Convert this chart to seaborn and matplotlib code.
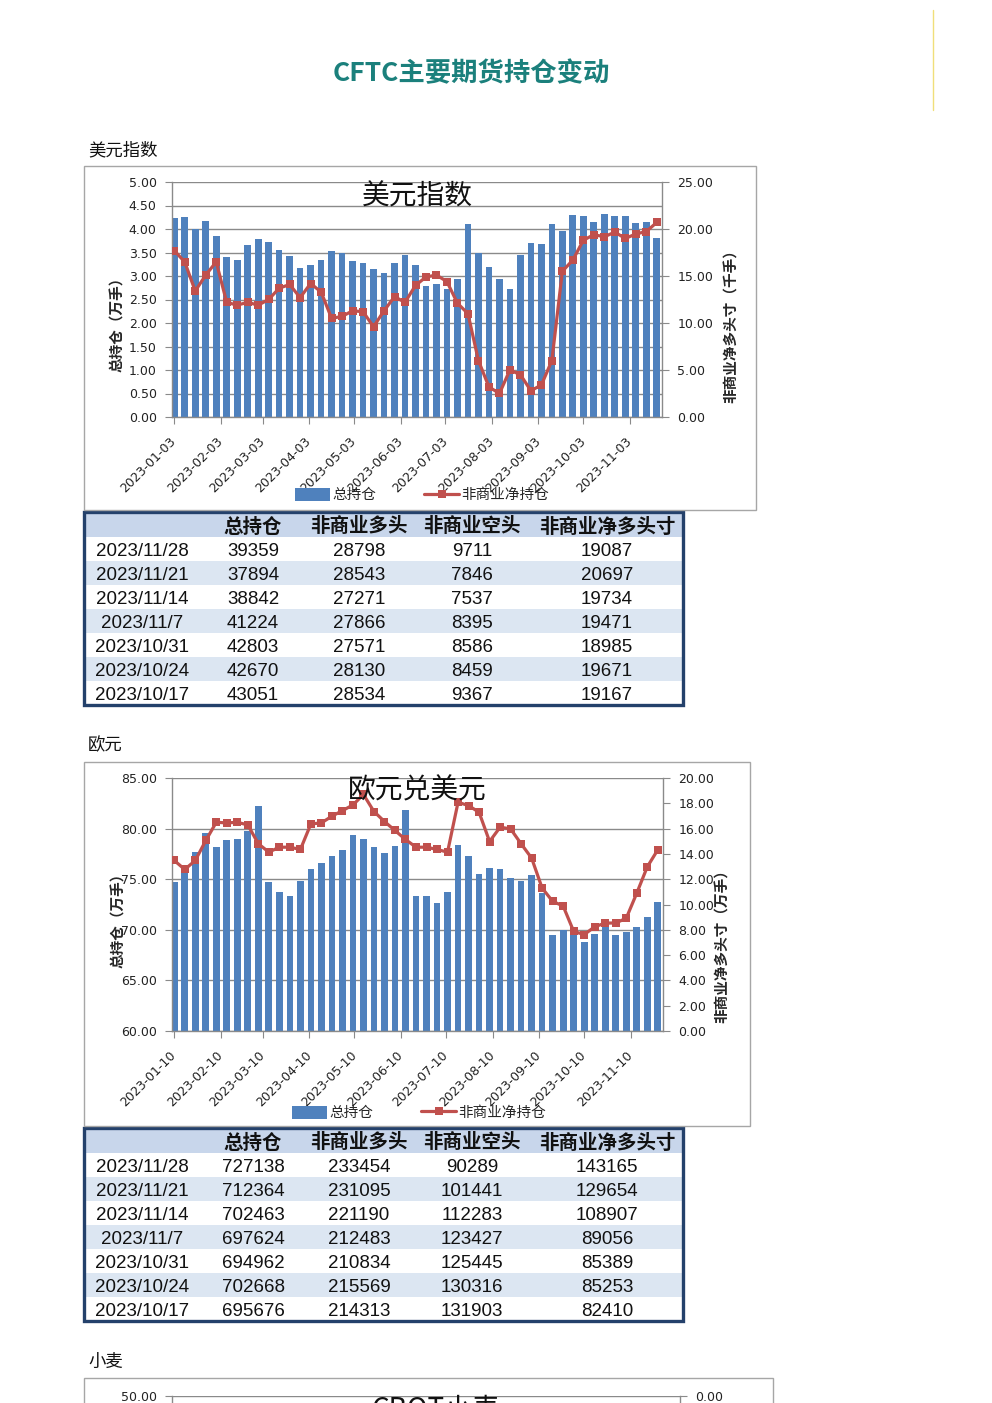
import numpy as np
import pandas as pd
import matplotlib
matplotlib.use("Agg")
import matplotlib.pyplot as plt
import seaborn as sns
from matplotlib.patches import Rectangle, Patch
from matplotlib.lines import Line2D

# ---------------- data ----------------
# 美元指数: weekly, 2023-01-03 .. 2023-11-21
usd_start = "2023-01-03"
usd_total = [4.23, 4.25, 3.99, 4.16, 3.85, 3.40, 3.34, 3.65, 3.78, 3.72,
             3.55, 3.43, 3.17, 3.24, 3.33, 3.53, 3.49, 3.32, 3.28, 3.14,
             3.07, 3.28, 3.45, 3.24, 2.79, 2.82, 2.72, 2.93, 4.11, 3.48,
             3.19, 2.93, 2.72, 3.44, 3.71, 3.69, 4.11, 3.95, 4.29, 4.28,
             4.15, 4.31, 4.27, 4.28, 4.12, 4.14, 3.80]          # 万手
usd_net = [17.7, 16.5, 13.4, 15.1, 16.5, 12.2, 11.9, 12.2, 11.9, 12.5,
           13.7, 14.1, 12.7, 14.2, 13.3, 10.5, 10.7, 11.3, 11.2, 9.6,
           11.3, 12.8, 12.2, 14.0, 14.9, 15.1, 14.4, 12.1, 11.0, 6.0,
           3.2, 2.5, 5.0, 4.5, 2.8, 3.4, 6.0, 15.5, 16.7, 18.8,
           19.4, 19.17, 19.67, 18.99, 19.47, 19.73, 20.70]    # 千手
usd_tick_labels = [f"2023-{m:02d}-03" for m in range(1, 12)]

# 欧元: weekly, 2023-01-10 .. 2023-11-28
eur_start = "2023-01-10"
eur_total = [74.7, 75.7, 77.7, 79.6, 78.2, 78.85, 78.95, 79.8, 82.2, 74.7,
             73.7, 73.3, 74.8, 76.0, 76.6, 77.3, 77.9, 79.4, 78.95, 78.2,
             77.6, 78.3, 81.8, 73.3, 73.3, 72.6, 73.7, 78.35, 77.3, 75.5,
             76.1, 76.0, 75.1, 74.85, 75.45, 73.6, 69.5, 70.0, 70.2, 68.8,
             69.57, 70.27, 69.50, 69.76, 70.25, 71.24, 72.71]       # 万手
eur_net = [13.48, 12.77, 13.48, 15.06, 16.5, 16.45, 16.5, 16.29, 14.8, 14.14,
           14.53, 14.53, 14.35, 16.37, 16.45, 16.98, 17.42, 17.87, 18.7, 17.35,
           16.56, 15.85, 15.14, 14.53, 14.53, 14.35, 14.14, 18.08, 17.82, 17.29,
           14.98, 16.11, 15.98, 14.8, 13.67, 11.3, 10.25, 9.88, 7.88, 7.62,
           8.24, 8.53, 8.54, 8.91, 10.89, 12.97, 14.32]          # 万手
eur_tick_labels = [f"2023-{m:02d}-10" for m in range(1, 12)]

table_cols = ["", "总持仓", "非商业多头", "非商业空头", "非商业净多头寸"]
table_dates = ["2023/11/28", "2023/11/21", "2023/11/14", "2023/11/7",
               "2023/10/31", "2023/10/24", "2023/10/17"]
usd_oi = [39359, 37894, 38842, 41224, 42803, 42670, 43051]
usd_long = [28798, 28543, 27271, 27866, 27571, 28130, 28534]
usd_short = [9711, 7846, 7537, 8395, 8586, 8459, 9367]
usd_netpos = [19087, 20697, 19734, 19471, 18985, 19671, 19167]
eur_oi = [727138, 712364, 702463, 697624, 694962, 702668, 695676]
eur_long = [233454, 231095, 221190, 212483, 210834, 215569, 214313]
eur_short = [90289, 101441, 112283, 123427, 125445, 130316, 131903]
eur_netpos = [143165, 129654, 108907, 89056, 85389, 85253, 82410]

# 小麦: only the top of its axes is on the page
wheat_left_top = 50.0
wheat_right_top = 0.0

# ---------------- style ----------------
W, H = 992, 1403
BASE = pd.Timestamp("2023-01-01")
BAR = "#4f81bd"
LINE = "#c0504d"
GRID = "#8a8a8a"
FRAME = "#a6a6a6"
NAVY = "#24416b"
HDR = "#c8d6eb"
ALT = "#dce6f2"
CJK = ["Noto Sans CJK SC", "DejaVu Sans"]
TICKF = "DejaVu Sans"

sns.set_style("white")
plt.rcParams["font.family"] = ["Liberation Sans", "Noto Sans CJK SC", "DejaVu Sans"]

fig = plt.figure(figsize=(W / 100, H / 100), dpi=100)
fig.patch.set_facecolor("white")


def frac(x0, y0, x1, y1):
    return [x0 / W, 1 - y1 / H, (x1 - x0) / W, (y1 - y0) / H]


def frame(x0, y0, x1, y1, color=FRAME, lw=1.0):
    fig.add_artist(Rectangle((x0 / W, 1 - y1 / H), (x1 - x0) / W, (y1 - y0) / H,
                             transform=fig.transFigure, fill=False, ec=color, lw=lw))


def style_axes(ax, ax2):
    for s in ["top", "right"]:
        ax.spines[s].set_visible(False)
    for s in ["left", "bottom"]:
        ax.spines[s].set_color(GRID)
        ax.spines[s].set_linewidth(1)
    for s in ["left", "top", "bottom"]:
        ax2.spines[s].set_visible(False)
    ax2.spines["right"].set_color(GRID)
    ax2.spines["right"].set_linewidth(1)
    ax.yaxis.grid(True, color=GRID, lw=1)
    ax.xaxis.grid(False)
    ax.set_axisbelow(True)
    ax.tick_params(axis="y", length=5, width=0.8, color=GRID, labelsize=9,
                   labelcolor="#222222", pad=6, left=True)
    ax.tick_params(axis="x", length=5, width=0.8, color=GRID, labelsize=9,
                   labelcolor="#222222", pad=11, bottom=True)
    ax2.tick_params(axis="y", length=5, width=0.8, color=GRID, labelsize=9,
                    labelcolor="#222222", pad=6, right=True)


def draw_panel(area, start, total, net, tick_labels, yticks, y2ticks, title,
               ylab, y2lab, lab_pos, lab2_pos, leg_xy, title_y):
    ax = fig.add_axes(frac(*area))
    dates = pd.date_range(start, periods=len(total), freq="7D")
    df = pd.DataFrame({"day": (dates - BASE).days.astype(float),
                       "total": total, "net": net})
    sns.barplot(data=df, x="day", y="total", native_scale=True, width=0.64,
                color=BAR, saturation=1, errorbar=None, edgecolor="none", ax=ax)
    ax2 = ax.twinx()
    sns.lineplot(data=df, x="day", y="net", ax=ax2, color=LINE, linewidth=2.3,
                 marker="s", markersize=5.5, markeredgecolor=LINE,
                 markeredgewidth=0, errorbar=None, legend=False)
    ax.set_xlim(df["day"].iloc[0] - 1.5, df["day"].iloc[-1] + 3.5)

    ticks = (pd.to_datetime(tick_labels) - BASE).days.astype(float)
    ax.set_xticks(ticks)
    ax.set_xticklabels(tick_labels, rotation=45, ha="right", va="center",
                       rotation_mode="anchor", fontfamily=TICKF)
    ax.set_ylim(yticks[0], yticks[-1])
    ax.set_yticks(yticks)
    ax.set_yticklabels([f"{v:.2f}" for v in yticks], fontfamily=TICKF)
    ax2.set_ylim(y2ticks[0], y2ticks[-1])
    ax2.set_yticks(y2ticks)
    ax2.set_yticklabels([f"{v:.2f}" for v in y2ticks], fontfamily=TICKF)
    style_axes(ax, ax2)

    ax.set_xlabel("")
    ax2.set_xlabel("")
    ax.set_ylabel(ylab, fontsize=10.5, fontweight="bold", family=CJK, va="center")
    ax.yaxis.set_label_coords(*lab_pos)
    ax2.set_ylabel(y2lab, fontsize=10.5, fontweight="bold", family=CJK, va="center")
    ax2.yaxis.set_label_coords(*lab2_pos)

    ax2.text(0.5, title_y, title, transform=ax.transAxes, ha="center", va="center",
             fontsize=20, family=CJK, color="#111111", zorder=10)

    handles = [Patch(facecolor=BAR, edgecolor="none"),
               Line2D([], [], color=LINE, lw=2.3, marker="s", markersize=5.5,
                      markeredgewidth=0)]
    fig.legend(handles, ["总持仓", "非商业净持仓"], loc="center",
               bbox_to_anchor=(leg_xy[0] / W, 1 - leg_xy[1] / H), ncol=2,
               frameon=False, handlelength=2.4, handleheight=1.0,
               handletextpad=0.15, columnspacing=3.3, prop={"family": CJK, "size": 10.5})
    return ax, ax2


def draw_table(top, oi, lng, sht, net):
    left, right = 84, 683
    hdr_h, row_h = 25, 24
    bottom = top + hdr_h + row_h * len(table_dates)
    tax = fig.add_axes(frac(left, top, right, bottom))
    tax.set_xlim(left, right)
    tax.set_ylim(bottom, top)
    tax.axis("off")
    tax.add_patch(Rectangle((left, top), right - left, hdr_h, fc=HDR, ec="none"))
    for i in range(len(table_dates)):
        y0 = top + hdr_h + i * row_h
        tax.add_patch(Rectangle((left, y0), right - left, row_h,
                                fc="white" if i % 2 == 0 else ALT, ec="none"))
    tax.add_patch(Rectangle((left, top), right - left, bottom - top, fill=False,
                            ec=NAVY, lw=2.4, clip_on=False))
    col_x = [142, 253, 359, 472, 607]
    for cx, name in zip(col_x, table_cols):
        tax.text(cx, top + 13 + 7.5, name, ha="center", va="baseline",
                 fontsize=14, fontweight="bold", family=CJK, color="#111111")
    for i, d in enumerate(table_dates):
        yb = top + hdr_h + i * row_h + 12 + 7
        vals = [d, oi[i], lng[i], sht[i], net[i]]
        for cx, v in zip(col_x, vals):
            tax.text(cx, yb, str(v), ha="center", va="baseline", fontsize=13.5,
                     family=["Liberation Sans", "DejaVu Sans"], color="#111111")


# ---------------- page ----------------
fig.text(471 / W, 1 - 74 / H, "CFTC主要期货持仓变动", ha="center", va="center",
         fontsize=19, fontweight="bold", color="#1b807c", family=CJK)
fig.add_artist(Line2D([933 / W, 933 / W], [1 - 10 / H, 1 - 110 / H],
                      transform=fig.transFigure, color="#f0df7a", lw=1))

for txt, y in [("美元指数", 150), ("欧元", 745), ("小麦", 1362)]:
    fig.text(88 / W, 1 - y / H, txt, ha="left", va="center", fontsize=12.5,
             family=CJK, color="#111111")

# 美元指数
frame(84, 166, 756, 510)
draw_panel((172, 182, 662, 417), usd_start, usd_total, usd_net, usd_tick_labels,
           np.arange(0, 5.01, 0.5), np.arange(0, 25.01, 5), "美元指数",
           "总持仓（万手）", "非商业净多头寸（千手）",
           (-0.112, 0.41), (1.141, 0.40), (422, 495), 0.94)
draw_table(512, usd_oi, usd_long, usd_short, usd_netpos)

# 欧元
frame(84, 762, 750, 1126)
draw_panel((172, 778, 663, 1031), eur_start, eur_total, eur_net, eur_tick_labels,
           np.arange(60, 85.01, 5), np.arange(0, 20.01, 2), "欧元兑美元",
           "总持仓（万手）", "非商业净多头寸（万手）",
           (-0.110, 0.45), (1.120, 0.35), (419, 1113), 0.949)
draw_table(1128, eur_oi, eur_long, eur_short, eur_netpos)

# 小麦 (only the top edge is on the page)
frame(84, 1378, 773, 1700)
wax = fig.add_axes(frac(172, 1396, 680, 1640))
wax2 = wax.twinx()
wax.set_ylim(0, wheat_left_top)
wax.set_yticks([wheat_left_top])
wax.set_yticklabels([f"{wheat_left_top:.2f}"], fontfamily=TICKF)
wax2.set_ylim(-25, wheat_right_top)
wax2.set_yticks([wheat_right_top])
wax2.set_yticklabels([f"{wheat_right_top:.2f}"], fontfamily=TICKF)
wax.set_xticks([])
style_axes(wax, wax2)
wax.text(0.52, 0.945, "CBOT小麦", transform=wax.transAxes, ha="center", va="center",
         fontsize=20, family=CJK, color="#111111")

fig.savefig("out.png", dpi=100)
